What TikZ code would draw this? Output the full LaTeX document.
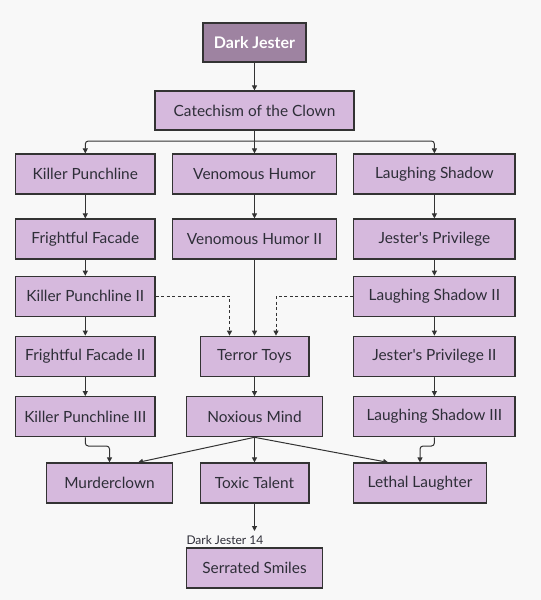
\documentclass[tikz,border=0pt]{standalone}
\usepackage{fontspec}
\setmainfont{Lato}[Ligatures=TeXOff]
\usetikzlibrary{arrows.meta}
\definecolor{bgc}{HTML}{F8F8F8}
\definecolor{boxc}{HTML}{D6B9DD}
\definecolor{topc}{HTML}{9E83A1}
\definecolor{linec}{HTML}{333333}
\definecolor{textc}{HTML}{2E2E38}
\tikzset{
  box/.style={draw=linec, fill=boxc, line width=1.2pt, inner sep=0pt,
    minimum height=40pt, text=textc, font=\fontsize{15.4}{17}\selectfont},
  topbox/.style={box, fill=topc, text=white, font=\fontsize{16}{18}\selectfont\bfseries},
  conn/.style={draw=linec, line width=1pt, -{Triangle[length=5pt,width=5pt]}},
  dconn/.style={conn, dash pattern=on 3pt off 2.5pt},
  lbl/.style={text=textc, inner sep=0pt, font=\fontsize{12}{14}\selectfont}
}
\begin{document}
\begin{tikzpicture}[x=1pt,y=-1pt]
\fill[bgc] (0,0) rectangle (541,600);
\useasboundingbox (0,0) rectangle (541,600);
% nodes
\node[topbox, minimum width=103pt, minimum height=39pt] (dj) at (254.5,42.5) {Dark Jester};
\node[box, minimum width=199pt, minimum height=39pt] (cat) at (254.5,110.5) {Catechism of the Clown};
\node[box, minimum width=139.5pt] (kp) at (85.3,174) {Killer Punchline};
\node[box, minimum width=164pt] (vh) at (254.5,174) {Venomous Humor};
\node[box, minimum width=161.3pt] (ls) at (434.4,174) {Laughing Shadow};
\node[box, minimum width=139.5pt] (ff) at (85.3,239) {Frightful Facade};
\node[box, minimum width=164pt] (vh2) at (254.5,239) {Venomous Humor II};
\node[box, minimum width=161.3pt] (jp) at (434.4,239) {Jester's Privilege};
\node[box, minimum width=139.5pt] (kp2) at (85.3,296.3) {Killer Punchline II};
\node[box, minimum width=161.3pt] (ls2) at (434.4,296.3) {Laughing Shadow II};
\node[box, minimum width=139.5pt] (ff2) at (85.3,356.2) {Frightful Facade II};
\node[box, minimum width=108.8pt] (tt) at (254.5,356.2) {Terror Toys};
\node[box, minimum width=161.3pt] (jp2) at (434.4,356.2) {Jester's Privilege II};
\node[box, minimum width=139.5pt] (kp3) at (85.3,416.7) {Killer Punchline III};
\node[box, minimum width=136.3pt] (nm) at (254.5,416.7) {Noxious Mind};
\node[box, minimum width=161.3pt] (ls3) at (434.4,416.7) {Laughing Shadow III};
\node[box, minimum width=126pt] (mc) at (109.5,483) {Murderclown};
\node[box, minimum width=108.8pt] (tx) at (254.5,483) {Toxic Talent};
\node[box, minimum width=133pt] (ll) at (420,483) {Lethal Laughter};
\node[box, minimum width=136.3pt] (ss) at (254.5,568) {Serrated Smiles};
\node[lbl, anchor=base west] (lab) at (186.3,544) {Dark Jester 14};
% coordinates
\coordinate (bus) at (254.5,141);
\coordinate (bend) at (0,446);
\coordinate (txend) at (254.5,531);
% connectors
\draw[conn] (dj) -- (cat);
\draw[conn] (cat.south) -- (vh.north);
\draw[conn, rounded corners=3pt] (bus) -| (kp.north);
\draw[conn, rounded corners=3pt] (bus) -| (ls.north);
\draw[conn] (kp) -- (ff);
\draw[conn] (ff) -- (kp2);
\draw[conn] (kp2) -- (ff2);
\draw[conn] (ff2) -- (kp3);
\draw[conn] (vh) -- (vh2);
\draw[conn] (vh2.south) -- (tt.north);
\draw[conn] (ls) -- (jp);
\draw[conn] (jp) -- (ls2);
\draw[conn] (ls2) -- (jp2);
\draw[conn] (jp2) -- (ls3);
\draw[dconn] (kp2.east) -| ([xshift=-25pt]tt.north);
\draw[dconn] (ls2.west) -| ([xshift=21.5pt]tt.north);
\draw[conn] (tt) -- (nm);
\draw[conn, rounded corners=3pt] (kp3.south) -- (kp3.south |- bend) -| (mc.north);
\draw[conn, rounded corners=3pt] (ls3.south) -- (ls3.south |- bend) -| (ll.north);
\draw[conn] (nm.south) -- ([xshift=28.5pt]mc.north);
\draw[conn] (nm.south) -- (tx.north);
\draw[conn] (nm.south) -- ([xshift=-31.8pt]ll.north);
\draw[conn] (tx.south) -- (txend);
\end{tikzpicture}
\end{document}
